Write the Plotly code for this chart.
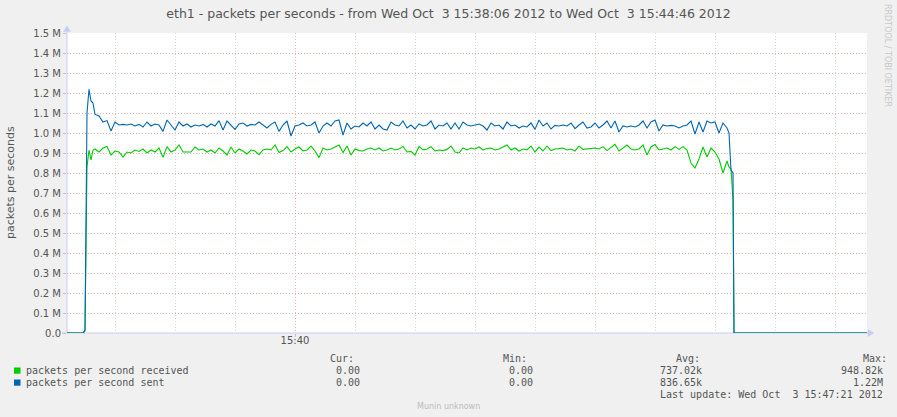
import pandas as pd
import plotly.graph_objects as go

# ---------------- data ----------------
start_time = "2012-10-03 15:38:06"
end_offset_s = 400

t_head = [0, 8, 9, 10, 11, 12, 13]
t_body = list(range(14, 332, 2))
t_tail = [331, 332, 333, 333.5, 400]

sent_head = [0.0, 0.0, 0.015, 1.10, 1.218, 1.16, 1.15]
recv_head = [0.0, 0.0, 0.010, 0.83, 0.915, 0.865, 0.915]

sent_body = [
    # t 14 .. 110
    1.093, 1.085, 1.055, 1.062, 1.010, 1.055, 1.040, 1.043, 1.040, 1.045,
    1.035, 1.043, 1.030, 1.055, 1.035, 1.045, 1.040, 1.008, 1.065, 1.040,
    1.015, 1.055, 1.035, 1.045, 1.030, 1.040, 1.035, 1.043, 1.030, 1.045,
    1.035, 1.062, 1.015, 1.060, 1.040, 1.018, 1.045, 1.050, 1.035, 1.043,
    1.040, 1.055, 1.040, 1.025, 1.043, 1.055, 1.008, 1.040, 1.060,
    # t 112 .. 220
    0.985, 1.035, 1.040, 1.050, 1.035, 1.040, 1.055, 1.000, 1.035, 1.050,
    1.035, 1.060, 1.065, 0.990, 1.050, 1.020, 1.035, 1.030, 1.050, 1.035,
    1.055, 1.020, 1.040, 1.020, 1.015, 1.055, 1.040, 1.035, 1.060, 1.025,
    1.040, 1.020, 1.045, 1.035, 1.040, 1.060, 1.020, 1.040, 1.035, 1.050,
    1.020, 1.050, 1.020, 1.055, 1.040, 1.035, 1.040, 1.045, 1.035, 1.015,
    1.050, 1.035, 1.040, 1.020, 1.055,
    # t 222 .. 330
    1.035, 1.040, 1.025, 1.035, 1.030, 1.050, 1.018, 1.065, 1.035, 1.050,
    1.020, 1.038, 1.035, 1.040, 1.035, 1.050, 1.022, 1.040, 1.055, 1.025,
    1.030, 1.050, 1.025, 1.040, 1.060, 1.025, 1.060, 1.005, 1.035, 1.030,
    1.035, 1.030, 1.040, 1.060, 1.025, 1.055, 1.065, 1.010, 1.040, 1.035,
    1.038, 1.035, 1.025, 1.035, 1.040, 1.060, 0.995, 1.055, 1.005, 1.060,
    1.050, 1.055, 1.000, 1.050, 1.025,
]
recv_body = [
    # t 14 .. 110
    0.920, 0.905, 0.925, 0.933, 0.890, 0.910, 0.905, 0.880, 0.905, 0.900,
    0.915, 0.908, 0.920, 0.900, 0.915, 0.905, 0.925, 0.878, 0.932, 0.905,
    0.915, 0.940, 0.905, 0.905, 0.905, 0.930, 0.915, 0.920, 0.905, 0.915,
    0.900, 0.925, 0.910, 0.890, 0.930, 0.900, 0.920, 0.910, 0.895, 0.915,
    0.910, 0.892, 0.915, 0.920, 0.915, 0.940, 0.902, 0.912, 0.932,
    # t 112 .. 220
    0.905, 0.920, 0.930, 0.910, 0.915, 0.935, 0.910, 0.877, 0.925, 0.915,
    0.920, 0.930, 0.940, 0.902, 0.935, 0.890, 0.920, 0.912, 0.910, 0.920,
    0.925, 0.915, 0.925, 0.910, 0.915, 0.925, 0.915, 0.920, 0.933, 0.905,
    0.908, 0.890, 0.933, 0.915, 0.920, 0.932, 0.910, 0.915, 0.912, 0.918,
    0.935, 0.905, 0.900, 0.925, 0.915, 0.925, 0.920, 0.930, 0.915, 0.922,
    0.925, 0.915, 0.920, 0.930, 0.940,
    # t 222 .. 330
    0.915, 0.925, 0.910, 0.920, 0.915, 0.935, 0.905, 0.930, 0.910, 0.935,
    0.912, 0.920, 0.922, 0.925, 0.915, 0.920, 0.910, 0.935, 0.918, 0.920,
    0.925, 0.925, 0.920, 0.932, 0.912, 0.930, 0.943, 0.910, 0.925, 0.940,
    0.920, 0.915, 0.920, 0.940, 0.890, 0.930, 0.942, 0.915, 0.920, 0.925,
    0.915, 0.932, 0.918, 0.932, 0.915, 0.850, 0.825, 0.870, 0.930, 0.880,
    0.925, 0.905, 0.870, 0.800, 0.860,
]

sent_tail = [1.000, 0.815, 0.800, 0.0, 0.0]
recv_tail = [0.830, 0.820, 0.665, 0.0, 0.0]

if len(sent_body) != len(t_body) or len(recv_body) != len(t_body):
    raise SystemExit(f"length mismatch {len(t_body)} {len(sent_body)} {len(recv_body)}")

seconds = t_head + t_body + t_tail
received = recv_head + recv_body + recv_tail
sent = sent_head + sent_body + sent_tail

y_tickvals = [0.0, 0.1, 0.2, 0.3, 0.4, 0.5, 0.6, 0.7, 0.8, 0.9, 1.0, 1.1, 1.2, 1.3, 1.4, 1.5]
y_ticktext = ["0.0", "0.1 M", "0.2 M", "0.3 M", "0.4 M", "0.5 M", "0.6 M", "0.7 M",
              "0.8 M", "0.9 M", "1.0 M", "1.1 M", "1.2 M", "1.3 M", "1.4 M", "1.5 M"]
x_tickvals = ["2012-10-03 15:40:00"]
x_ticktext = ["15:40"]

series_names = ["packets per second received", "packets per second sent"]
series_colors = ["#00CC00", "#0066B3"]
stat_cur = ["0.00", "0.00"]
stat_min = ["0.00", "0.00"]
stat_avg = ["737.02k", "836.65k"]
stat_max = ["948.82k", "1.22M"]

title_text = "eth1 - packets per seconds - from Wed Oct \u00a03 15:38:06 2012 to Wed Oct \u00a03 15:44:46 2012"
last_update = "Last update: Wed Oct \u00a03 15:47:21 2012"

# ---------------- figure ----------------
t0 = pd.Timestamp(start_time)
times = [t0 + pd.to_timedelta(s, unit="s") for s in seconds]
x_end = t0 + pd.to_timedelta(end_offset_s, unit="s")

W, H = 897, 417
L, R, T, B = 67, 867, 33, 333


def px(x):
    return (x - L) / (R - L)


def py(y):
    return (B - y) / (B - T)


fig = go.Figure()
fig.add_trace(go.Scatter(x=times, y=received, mode="lines",
                         line=dict(color=series_colors[0], width=1.1), showlegend=False))
fig.add_trace(go.Scatter(x=times, y=sent, mode="lines",
                         line=dict(color=series_colors[1], width=1.1), showlegend=False))

GRID_MAJOR = "#E2B4B4"
GRID_MINOR = "#D6D6D6"
AXIS_COL = "#C8CCF2"
TXT = "#555555"

fig.update_layout(
    width=W, height=H,
    margin=dict(l=L, r=W - R, t=T, b=H - B),
    paper_bgcolor="#F0F0F0",
    plot_bgcolor="#FFFFFF",
    font=dict(family="DejaVu Sans", size=10, color=TXT),
    title=dict(text=title_text, x=0.5, xref="container", xanchor="center",
               y=1 - 13.5 / H, yref="container", yanchor="middle",
               font=dict(family="DejaVu Sans", size=12.5, color=TXT)),
    xaxis=dict(
        type="date", range=[t0, x_end],
        tickmode="array", tickvals=x_tickvals, ticktext=x_ticktext,
        showgrid=True, gridcolor=GRID_MAJOR, griddash="1px,2px", gridwidth=1,
        ticks="outside", ticklen=3, tickcolor=GRID_MAJOR, ticklabelstandoff=-5,
        tickfont=dict(family="DejaVu Sans", size=10, color=TXT),
        minor=dict(tick0="2012-10-03 15:38:30", dtick=30000, showgrid=True,
                   gridcolor=GRID_MINOR, griddash="1px,2px", gridwidth=1, ticks=""),
        showline=False, zeroline=False, fixedrange=True,
    ),
    yaxis=dict(
        range=[0, 1.5], tickmode="array", tickvals=y_tickvals, ticktext=y_ticktext,
        showgrid=True, gridcolor=GRID_MAJOR, griddash="1px,2px", gridwidth=1,
        ticks="outside", ticklen=3, tickcolor=GRID_MAJOR,
        tickfont=dict(family="DejaVu Sans", size=10, color=TXT),
        showline=False, zeroline=False, fixedrange=True,
    ),
)

shapes = []
# axis lines with arrows
shapes.append(dict(type="line", xref="paper", yref="paper",
                   x0=px(67), x1=px(67), y0=py(333), y1=py(29),
                   line=dict(color=AXIS_COL, width=1), layer="below"))
shapes.append(dict(type="line", xref="paper", yref="paper",
                   x0=px(62), x1=px(869), y0=py(333), y1=py(333),
                   line=dict(color=AXIS_COL, width=1), layer="below"))
shapes.append(dict(type="path", xref="paper", yref="paper",
                   path=f"M {px(63.5)},{py(31.5)} L {px(67)},{py(26)} L {px(70.5)},{py(31.5)} Z",
                   fillcolor=AXIS_COL, line=dict(color=AXIS_COL, width=0.5), layer="above"))
shapes.append(dict(type="path", xref="paper", yref="paper",
                   path=f"M {px(868)},{py(329.5)} L {px(874)},{py(333)} L {px(868)},{py(336.5)} Z",
                   fillcolor=AXIS_COL, line=dict(color=AXIS_COL, width=0.5), layer="above"))
# legend colour boxes
for i, c in enumerate(series_colors):
    yc = 370.5 + 12 * i
    shapes.append(dict(type="rect", xref="paper", yref="paper",
                       x0=px(14), x1=px(20.5), y0=py(yc - 3), y1=py(yc + 3.2),
                       fillcolor=c, line=dict(width=0), layer="above"))
fig.update_layout(shapes=shapes)

MONO = dict(family="DejaVu Sans Mono", size=10, color=TXT)


def ann(text, x, y, xanchor="left", font=MONO, **kw):
    fig.add_annotation(text=text, x=px(x), y=py(y), xref="paper", yref="paper",
                       xanchor=xanchor, yanchor="middle", showarrow=False,
                       font=font, borderpad=0, **kw)


# y axis title
ann("packets per seconds", 10, 183, xanchor="center",
    font=dict(family="DejaVu Sans", size=11, color=TXT), textangle=-90)
# rrdtool credit
ann("RRDTOOL / TOBI OETIKER", 888, 55, xanchor="center",
    font=dict(family="DejaVu Sans", size=8, color="#C8C8C8"), textangle=90)

# legend headers
ann("Cur:", 329, 358.3)
ann("Min:", 501.8, 358.3)
ann("Avg:", 674.5, 358.3)
ann("Max:", 861.8, 358.3)
for i, name in enumerate(series_names):
    yy = 370.7 + 12 * i
    ann(name, 25, yy)
    ann(stat_cur[i], 361, yy, xanchor="right")
    ann(stat_min[i], 534.3, yy, xanchor="right")
    ann(stat_avg[i], 702.7, yy, xanchor="right")
    ann(stat_max[i], 884.3, yy, xanchor="right")
ann(last_update, 884.3, 394.3, xanchor="right")
ann("Munin unknown", 415.5, 406.5,
    font=dict(family="DejaVu Sans", size=8, color="#BBBBBB"))

fig.write_html(
    "out.html",
    config={"displayModeBar": False},
    post_script="document.body.style.margin='0';document.body.style.overflow='hidden';",
)
